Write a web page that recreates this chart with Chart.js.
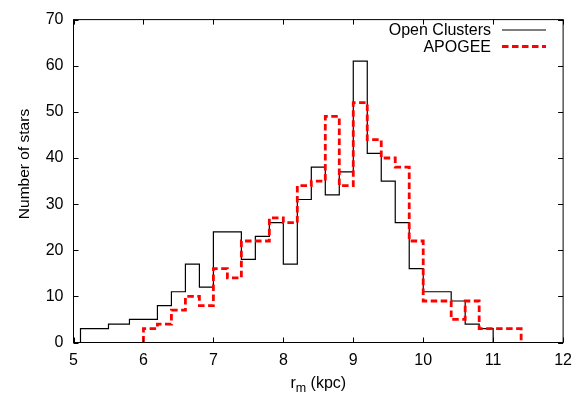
<!DOCTYPE html>
<html>
<head>
<meta charset="UTF-8">
<title>Number of stars vs r_m</title>
<script src="https://cdn.jsdelivr.net/npm/chart.js"></script>
<style>
  html, body { margin: 0; padding: 0; background: #fff; }
  canvas { display: block; }
</style>
</head>
<body>
<canvas id="hist" width="580" height="393"></canvas>
<script>
// bin edges (kpc) and counts
const ocEdges  = [5.1, 5.5, 5.8, 6.2, 6.4, 6.6, 6.8, 7.0, 7.4, 7.6, 7.8, 8.0, 8.2, 8.4, 8.6, 8.8, 9.0, 9.2, 9.4, 9.6, 9.8, 10.0, 10.4, 10.6, 10.8, 11.0];
const ocCounts = [3, 4, 5, 8, 11, 17, 12, 24, 18, 23, 26, 17, 31, 38, 32, 37, 61, 41, 35, 26, 16, 11, 9, 4, 3];

const apEdges  = [6.0, 6.2, 6.4, 6.6, 6.8, 7.0, 7.2, 7.4, 7.8, 8.0, 8.2, 8.4, 8.6, 8.8, 9.0, 9.2, 9.4, 9.6, 9.8, 10.0, 10.4, 10.6, 10.8, 11.4];
const apCounts = [3, 4, 7, 10, 8, 16, 14, 22, 27, 26, 34, 35, 49, 34, 52, 44, 40, 38, 22, 9, 5, 9, 3];

const xTicks = [5, 6, 7, 8, 9, 10, 11, 12];
const yTicks = [0, 10, 20, 30, 40, 50, 60, 70];

const FONT = '"Liberation Sans", Arial, Helvetica, sans-serif';

// histogram outline: rise from 0 at the first edge, fall to 0 at the last
function stepPoints(edges, counts) {
  const pts = [{x: edges[0], y: 0}];
  counts.forEach((c, i) => pts.push({x: edges[i], y: c}));
  pts.push({x: edges[edges.length - 1], y: 0});
  return pts;
}

// box, inward ticks on all four sides, axis titles, legend
const decor = {
  id: 'decor',
  afterDatasetsDraw(chart) {
    const {ctx, chartArea: a, scales: {x, y}} = chart;
    ctx.save();
    ctx.strokeStyle = '#000';
    ctx.lineWidth = 1;
    ctx.strokeRect(a.left, a.top, a.right - a.left, a.bottom - a.top);
    ctx.beginPath();
    xTicks.forEach(v => {
      const px = Math.round(x.getPixelForValue(v)) + 0.5;
      ctx.moveTo(px, a.bottom); ctx.lineTo(px, a.bottom - 5);
      ctx.moveTo(px, a.top); ctx.lineTo(px, a.top + 5);
    });
    yTicks.forEach(v => {
      const py = Math.round(y.getPixelForValue(v)) + 0.5;
      ctx.moveTo(a.left, py); ctx.lineTo(a.left + 5, py);
      ctx.moveTo(a.right, py); ctx.lineTo(a.right - 5, py);
    });
    ctx.stroke();

    // x title: r with subscript m
    ctx.fillStyle = '#000';
    ctx.textBaseline = 'alphabetic';
    ctx.textAlign = 'left';
    ctx.font = '16px ' + FONT;
    const rW = ctx.measureText('r').width;
    ctx.font = '12.5px ' + FONT;
    const mW = ctx.measureText('m').width;
    ctx.font = '16px ' + FONT;
    const restW = ctx.measureText(' (kpc)').width;
    const tx = (a.left + a.right) / 2 - (rW + mW + restW) / 2;
    ctx.fillText('r', tx, 388);
    ctx.font = '12.5px ' + FONT;
    ctx.fillText('m', tx + rW, 392);
    ctx.font = '16px ' + FONT;
    ctx.fillText(' (kpc)', tx + rW + mW, 388);

    // y title
    ctx.save();
    ctx.translate(25, 164);
    ctx.rotate(-Math.PI / 2);
    ctx.font = '15.5px ' + FONT;
    ctx.textAlign = 'center';
    ctx.textBaseline = 'middle';
    ctx.fillText('Number of stars', 0, 0);
    ctx.restore();

    // legend: text right-aligned, then line sample
    const rows = [{ds: chart.data.datasets[1], y: 30}, {ds: chart.data.datasets[0], y: 46.5}];
    rows.forEach(r => {
      ctx.font = '16px ' + FONT;
      ctx.textAlign = 'right';
      ctx.textBaseline = 'middle';
      ctx.fillStyle = '#000';
      ctx.fillText(r.ds.label, 491, r.y + 1);
      ctx.strokeStyle = r.ds.borderColor;
      ctx.lineWidth = r.ds.borderWidth;
      ctx.setLineDash(r.ds.borderDash || []);
      ctx.beginPath();
      ctx.moveTo(502, r.y);
      ctx.lineTo(546, r.y);
      ctx.stroke();
      ctx.setLineDash([]);
    });
    ctx.restore();
  }
};

new Chart(document.getElementById('hist'), {
  type: 'line',
  data: {
    datasets: [
      {
        label: 'APOGEE',
        data: stepPoints(apEdges, apCounts),
        borderColor: '#ff0000',
        borderWidth: 2.8,
        borderDash: [6.5, 3.5],
        stepped: 'before',
        pointRadius: 0,
        fill: false,
        order: 0
      },
      {
        label: 'Open Clusters',
        data: stepPoints(ocEdges, ocCounts),
        borderColor: '#000000',
        borderWidth: 1.2,
        stepped: 'before',
        pointRadius: 0,
        fill: false,
        order: 1
      }
    ]
  },
  options: {
    responsive: false,
    animation: false,
    devicePixelRatio: 1,
    layout: { padding: { left: 0, right: 13.5, top: 16.5, bottom: 0 } },
    plugins: { legend: { display: false }, tooltip: { enabled: false } },
    scales: {
      x: {
        type: 'linear',
        min: 5, max: 12,
        grid: { display: false, drawTicks: false },
        border: { display: false },
        afterBuildTicks: s => { s.ticks = xTicks.map(v => ({value: v})); },
        afterFit: s => { s.height = 50.5; },
        ticks: { color: '#000', padding: 8, maxRotation: 0, font: { size: 16, family: FONT } }
      },
      y: {
        type: 'linear',
        min: 0, max: 70,
        grid: { display: false, drawTicks: false },
        border: { display: false },
        afterBuildTicks: s => { s.ticks = yTicks.map(v => ({value: v})); },
        afterFit: s => { s.width = 73.5; },
        ticks: { color: '#000', padding: 10, font: { size: 16, family: FONT } }
      }
    }
  },
  plugins: [decor]
});
</script>
</body>
</html>
